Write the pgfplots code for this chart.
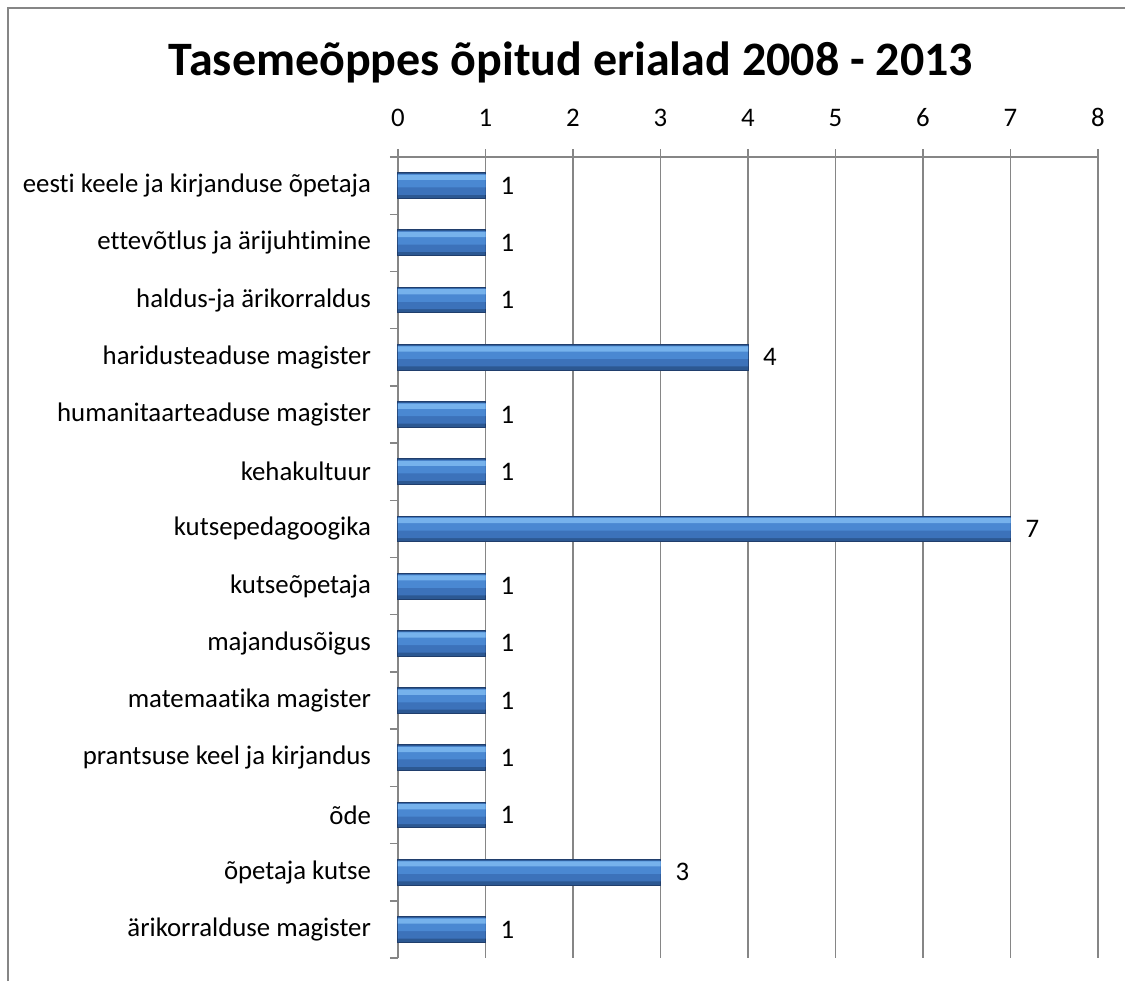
\documentclass[border=0pt]{standalone}
\usepackage{pgfplots}
\pgfplotsset{compat=1.18}
\usepackage{fontspec}
\setmainfont{Carlito}[Ligatures={NoCommon}]
\definecolor{gridgray}{RGB}{134,134,134}
\definecolor{barbase}{RGB}{44,88,146}
\definecolor{baredge}{RGB}{32,62,108}
\definecolor{barbody}{RGB}{60,114,186}
\definecolor{barupper}{RGB}{74,136,210}
\definecolor{barhigh}{RGB}{118,178,236}
\pgfplotstableread{
y val
0 1
1 1
2 1
3 4
4 1
5 1
6 7
7 1
8 1
9 1
10 1
11 1
12 3
13 1
}\datatable
\begin{document}
\begin{tikzpicture}
\useasboundingbox (0,0) rectangle (562.5pt,-490.5pt);
\fill[white] (0,0) rectangle (562.5pt,-490.5pt);
\draw[gridgray, line width=1pt] (4pt,-490.5pt) -- (4pt,-4pt) -- (562.5pt,-4pt);
\node[font=\fontsize{24}{28}\selectfont\bfseries] at (285.5pt,-31pt) {Tasemeõppes õpitud erialad 2008 - 2013};
\begin{axis}[
  at={(199pt,-479pt)}, anchor=south west,
  scale only axis, width=350pt, height=400.5pt,
  xmin=0, xmax=8, ymin=-0.5, ymax=13.5,
  y dir=reverse,
  xbar,
  axis x line*=top, axis y line*=left,
  axis line style={gridgray, line width=0.7pt},
  xtick={0,...,8},
  xticklabel pos=upper,
  xmajorgrids, major grid style={gridgray, line width=0.9pt},
  ytick={0,...,13},
  yticklabels={eesti keele ja kirjanduse õpetaja, ettevõtlus ja ärijuhtimine, haldus-ja ärikorraldus, haridusteaduse magister, humanitaarteaduse magister, kehakultuur, kutsepedagoogika, kutseõpetaja, majandusõigus, matemaatika magister, prantsuse keel ja kirjandus, õde, õpetaja kutse, ärikorralduse magister},
  minor ytick={-0.5,0.5,...,13.5},
  every major y tick/.style={draw=none},
  every minor y tick/.style={gridgray, line width=0.7pt},
  every major x tick/.style={gridgray, line width=0.7pt},
  tick align=outside,
  major tick length=4pt, minor tick length=4pt,
  ticklabel style={font=\fontsize{13.4}{15}\selectfont},
  /pgf/number format/assume math mode=true,
  yticklabel style={xshift=-6pt},
  xticklabel style={yshift=7.5pt},
  clip=false,
]
\addplot[fill=barbase, draw=baredge, line width=0.5pt, bar width=0.45, bar shift=0,
  nodes near coords, nodes near coords style={font=\fontsize{13.4}{15}\selectfont, anchor=west, xshift=4pt, text=black}]
  table[x=val, y=y] {\datatable};
\addplot[fill=barbody, draw=none, bar width=0.36, bar shift=-0.02] table[x=val, y=y] {\datatable};
\addplot[fill=barupper, draw=none, bar width=0.23, bar shift=-0.085] table[x=val, y=y] {\datatable};
\addplot[fill=barhigh, draw=none, bar width=0.09, bar shift=-0.145] table[x=val, y=y] {\datatable};
\end{axis}
\end{tikzpicture}
\end{document}
